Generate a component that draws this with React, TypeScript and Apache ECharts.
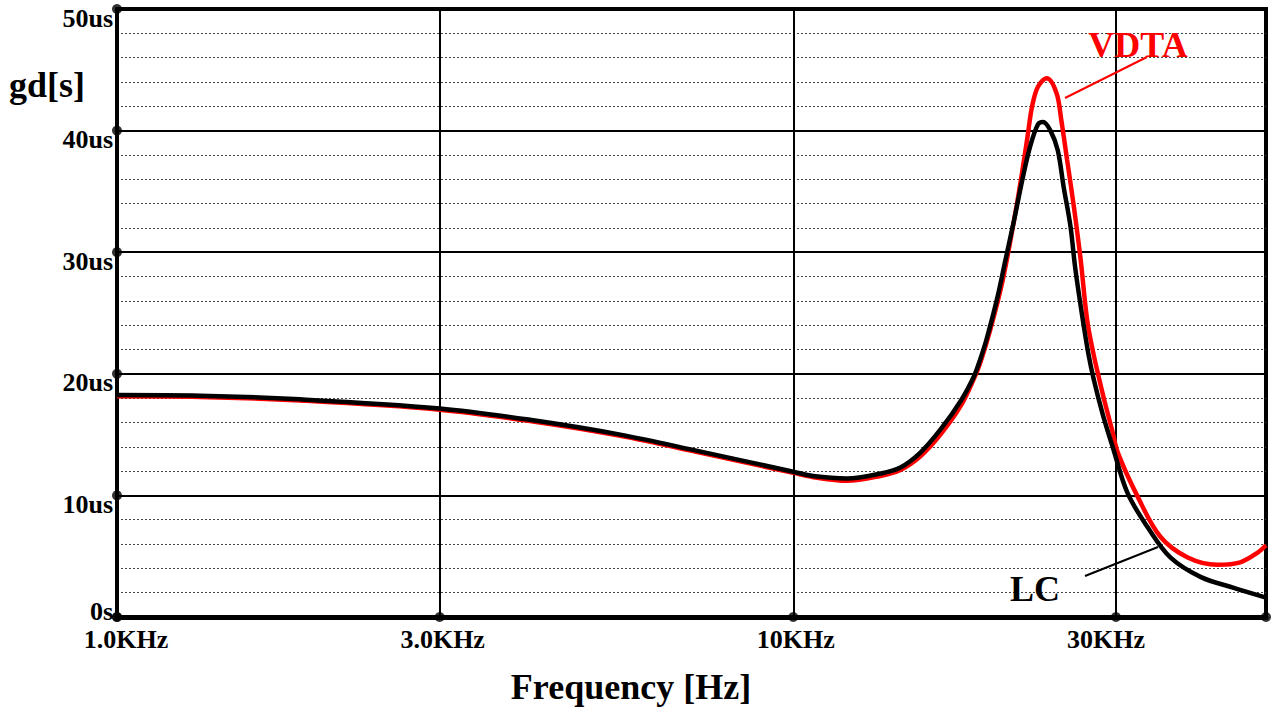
import { useEffect, useRef } from "react";
import * as echarts from "echarts";

const xMin = 1000;
const xMax = 50000;
const xTickValues = [1000, 3000, 10000, 30000];
const xTickLabels = ["1.0KHz", "3.0KHz", "10KHz", "30KHz"];
const yTickValues = [0, 10, 20, 30, 40, 50];
const yTickLabels = ["0s", "10us", "20us", "30us", "40us", "50us"];

// LC (black) group delay, frequency in Hz, delay in us
const lcFreq = [
  1000, 1327, 1865, 3000, 4100, 5550, 7300, 10000, 10700, 12000, 13450, 14400,
  15400, 16500, 17700, 18500, 18900, 19300, 20000, 20600, 21200, 21800, 22400, 23000,
  23400, 24000, 24600, 25100, 25700, 26100, 26700, 27300, 27800, 28700, 29700,
  31200, 33400, 36100, 40000, 44800, 50000,
];
const lcGd = [
  18.25, 18.2, 17.9, 17.15, 16.2, 15.0, 13.6, 11.95, 11.6, 11.4, 11.8, 12.3,
  13.5, 15.4, 17.8, 19.8, 21.2, 22.8, 26.1, 29.4, 32.6, 35.9, 38.7, 40.5,
  40.7, 40.0, 38.4, 35.4, 32.1, 28.8, 25.0, 21.7, 19.6, 16.6, 13.9,
  10.2, 7.4, 4.9, 3.3, 2.4, 1.6,
];

// VDTA (red) group delay
const vdtaFreq = [
  1000, 1327, 1865, 3000, 4100, 5550, 7300, 10000, 10700, 12000, 13450, 14400,
  15400, 16500, 17700, 18500, 18900, 19550, 20400, 21200, 21700, 22200, 22550,
  23000, 23700, 24500, 24900, 25400, 26000, 26600, 27200, 27800, 28300, 28900,
  29600, 30200, 32300, 34900, 38300, 42400, 45800, 48600, 50000,
];
const vdtaGd = [
  18.15, 18.1, 17.8, 17.05, 16.1, 14.9, 13.5, 11.85, 11.5, 11.2, 11.6, 12.1,
  13.2, 15.0, 17.4, 19.6, 20.9, 23.6, 27.7, 32.6, 35.9, 39.5, 42.0,
  43.6, 44.3, 43.1, 40.9, 37.6, 33.7, 29.4, 24.4, 21.6, 19.7, 17.6,
  15.4, 13.5, 9.9, 6.6, 4.9, 4.3, 4.5, 5.3, 5.9,
];

const FONT = "'Liberation Serif', 'Times New Roman', serif";

export default function App() {
  const ref = useRef<HTMLDivElement>(null);
  useEffect(() => {
    if (!ref.current) return;
    const chart = echarts.init(ref.current, null, { renderer: "svg" });
    const pair = (xs: number[], ys: number[]) => xs.map((x, i) => [x, ys[i]]);
    const dots: number[][] = [
      ...xTickValues.map((x) => [x, 0]),
      [xMax, 0],
      ...yTickValues.map((y) => [xMin, y]),
    ];
    const xIdx = (v: number) =>
      xTickValues.findIndex((t) => Math.abs(Math.log10(v) - Math.log10(t)) < 0.01);
    const xPad = [
      [0, 0, 0, 18],
      [0, 0, 0, 6],
      [0, 0, 0, 5],
      [0, 20, 0, 0],
    ];
    const labelFont = { fontFamily: FONT, fontWeight: "bold" as const, fontSize: 26, color: "#000" };
    const xRich: any = {};
    xPad.forEach((p, i) => (xRich["p" + i] = { ...labelFont, padding: p }));
    chart.setOption({
      animation: false,
      backgroundColor: "#fff",
      grid: {
        left: 117,
        top: 9,
        width: 1149,
        height: 608,
        show: true,
        borderColor: "#000",
        borderWidth: 4,
        backgroundColor: "transparent",
      },
      xAxis: {
        type: "log",
        logBase: 10,
        min: xMin,
        max: xMax,
        axisLine: { show: true, lineStyle: { color: "#000", width: 5 } },
        axisTick: { show: false, customValues: xTickValues },
        splitLine: { show: true, lineStyle: { color: "#000", width: 2 } },
        axisLabel: {
          customValues: xTickValues,
          margin: 9,
          ...labelFont,
          formatter: (v: number) => {
            const i = xIdx(v);
            return i >= 0 ? `{p${i}|${xTickLabels[i]}}` : "";
          },
          rich: xRich,
        },
      },
      yAxis: {
        type: "value",
        min: 0,
        max: 50,
        interval: 10,
        axisLine: { show: true, lineStyle: { color: "#000", width: 4 } },
        axisTick: { show: false },
        minorTick: { show: false, splitNumber: 5 },
        splitLine: { show: true, lineStyle: { color: "#000", width: 2 } },
        minorSplitLine: { show: true, lineStyle: { color: "#444", width: 1, type: [2, 2] } },
        axisLabel: {
          margin: 4,
          ...labelFont,
          formatter: (v: number) => {
            const i = yTickValues.indexOf(Math.round(v));
            const t = i >= 0 ? yTickLabels[i] : "";
            return v === 0 ? `{z|${t}}` : `{n|${t}}`;
          },
          rich: {
            n: { ...labelFont, padding: [18, 0, 0, 0] },
            z: { ...labelFont, padding: [0, 0, 12, 0] },
          },
        },
      },
      series: [
        {
          name: "VDTA",
          type: "line",
          data: pair(vdtaFreq, vdtaGd),
          showSymbol: false,
          smooth: 0.35,
          lineStyle: { color: "#ff0000", width: 4.5 },
          z: 3,
        },
        {
          name: "LC",
          type: "line",
          data: pair(lcFreq, lcGd),
          showSymbol: false,
          smooth: 0.35,
          lineStyle: { color: "#000", width: 4.5 },
          z: 4,
        },
        {
          type: "scatter",
          data: dots,
          symbol: "circle",
          symbolSize: 10,
          itemStyle: { color: "#000" },
          clip: false,
          z: 5,
          silent: true,
        },
      ],
      graphic: [
        {
          type: "text",
          x: 9,
          y: 85,
          z: 100,
          style: { text: "gd[s]", fill: "#000", fontSize: 36, fontWeight: "bold", fontFamily: FONT, align: "left", verticalAlign: "middle" },
        },
        {
          type: "text",
          x: 631,
          y: 687,
          z: 100,
          style: { text: "Frequency [Hz]", fill: "#000", fontSize: 36, fontWeight: "bold", fontFamily: FONT, align: "center", verticalAlign: "middle" },
        },
        {
          type: "text",
          x: 1138,
          y: 45,
          z: 100,
          style: { text: "VDTA", fill: "#ff0000", fontSize: 36, fontWeight: "bold", fontFamily: FONT, align: "center", verticalAlign: "middle" },
        },
        {
          type: "text",
          x: 1035,
          y: 589,
          z: 100,
          style: { text: "LC", fill: "#000", fontSize: 36, fontWeight: "bold", fontFamily: FONT, align: "center", verticalAlign: "middle" },
        },
        {
          type: "line",
          z: 100,
          shape: { x1: 1065, y1: 98, x2: 1147, y2: 57 },
          style: { stroke: "#ff0000", lineWidth: 2 },
        },
        {
          type: "line",
          z: 100,
          shape: { x1: 1085, y1: 576, x2: 1158, y2: 547 },
          style: { stroke: "#000", lineWidth: 2 },
        },
      ],
    });
    return () => chart.dispose();
  }, []);
  return (
    <div
      ref={ref}
      style={{ position: "absolute", left: 0, top: 0, width: 1274, height: 708, background: "#fff" }}
    />
  );
}
